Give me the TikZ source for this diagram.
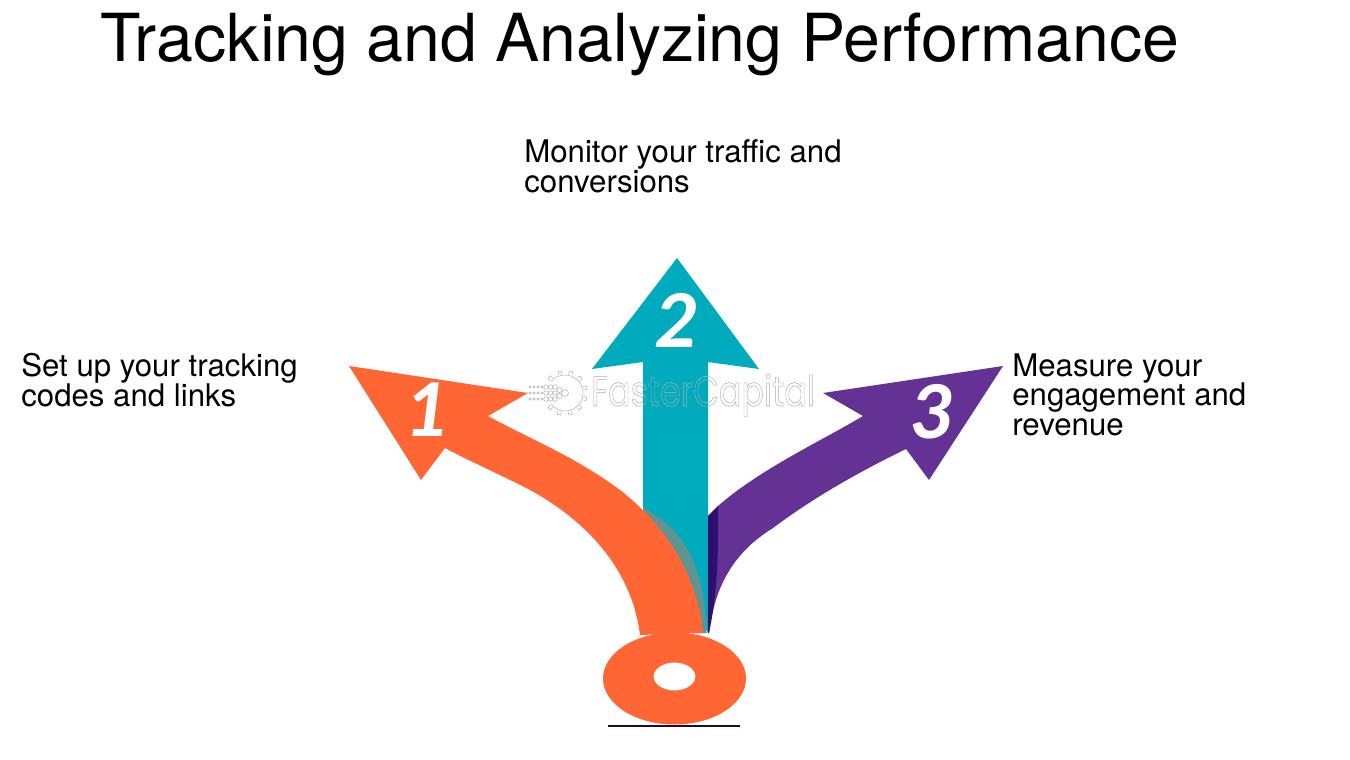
\documentclass[tikz,border=0pt]{standalone}
\usepackage{fontspec}
\usepackage{tkz-euclide}
\setmainfont{TeX Gyre Heros}
\newfontfamily\numfont{Carlito}
\newfontfamily\logofont{Poppins}
\definecolor{myOrange}{HTML}{FF6633}
\definecolor{myTeal}{HTML}{00ABBD}
\definecolor{myPurple}{HTML}{643294}
\definecolor{myDark}{HTML}{2E0F6E}
\definecolor{myBand}{HTML}{5F9490}
\tikzset{
  stepText/.style={anchor=north west,align=left,inner sep=0pt,font=\fontsize{17.75}{17}\selectfont},
  numText/.style={text=white,font=\numfont\bfseries\itshape\fontsize{47}{47}\selectfont},
  logoLine/.style={draw=gray!60,line width=0.3pt},
}
\newcommand{\myOutline}[1]{\special{pdf:code 1 Tr 0.3 w 0.68 G}#1\special{pdf:code 0 Tr}}
\begin{document}
\begin{tikzpicture}
	\useasboundingbox (0,0) rectangle (27,15.18);
	% title and texts
	\node[anchor=base west,inner sep=0pt,font=\fontsize{37.7}{37.7}\selectfont] (title) at (2,13.94) {Tracking and Analyzing Performance};
	\node[stepText] (textA) at (0.42,8.12) {Set up your tracking\\codes and links};
	\node[stepText] (textB) at (10.48,12.4) {Monitor your traffic and\\conversions};
	\node[stepText] (textC) at (20.24,8.12) {Measure your\\engagement and\\revenue};
	% teal arrow
	\tkzDefPoints{13.54/10.02/T, 11.84/7.8/Tl, 15.18/7.8/Tr, 12.86/7.94/Tc, 14.16/7.94/Td, 14.16/2.52/Te, 12.86/5/Tf}
	\fill[myTeal] (T) -- (Tr) -- (Td) -- (Te) -- (Tf) -- (Tc) -- (Tl) -- cycle;
	% band under orange arrow
	\fill[myBand] (14.13,2.52) .. controls (14.1,3.6) and (13.85,4.5) .. (12.86,5.04) -- (12.86,4.4) -- (13.6,2.52) -- cycle;
	% purple arrow
	\tkzDefPoints{20.06/7.86/P, 16.46/7.32/Pl, 18.58/5.58/Pr, 17.26/6.86/Pc, 18.12/6.2/Pd, 15.46/4.62/Pe, 14.18/2.52/Pf, 14.36/5.06/Pg, 14.16/4.86/Ph}
	\fill[myPurple] (Pf) .. controls (14.3,3.5) and (14.7,4.15) .. (Pe) .. controls (16.3,5.25) and (17.2,5.75) .. (Pd) -- (Pr) -- (P) -- (Pl) -- (Pc) .. controls (16.5,6.4) and (15.2,5.8) .. (Pg) -- (Ph) -- cycle;
	\fill[myDark] (Pg) -- (14.36,4.5) .. controls (14.36,3.6) and (14.28,3) .. (Pf) -- (14.16,2.52) -- (Ph) -- cycle;
	% orange arrow and ring
	\tkzDefPoints{6.98/7.86/O, 10.56/7.32/Ol, 8.42/5.58/Or, 9.76/6.86/Oc, 8.9/6.22/Od, 10.6/5.38/Oe, 12.8/2.48/Of, 14.06/2.52/Og, 12.4/5.38/Oh}
	\fill[myOrange] (Og) .. controls (13.95,3.6) and (13.4,4.6) .. (Oh) .. controls (11.5,6.05) and (10.6,6.4) .. (Oc) -- (Ol) -- (O) -- (Or) -- (Od) .. controls (9.5,5.9) and (10.05,5.67) .. (Oe) .. controls (11.3,5) and (12.6,4.1) .. (Of) -- cycle;
	\fill[myOrange,even odd rule] (13.49,1.61) ellipse (1.43 and 0.92) (13.49,1.65) ellipse (0.42 and 0.28);
	% shadow line
	\fill[myDark!60!black] (12.16,0.635) rectangle (14.8,0.675);
	% numbers
	\node[numText] (numA) at (8.5,6.98) {1};
	\node[numText] (numB) at (13.5,8.78) {2};
	\node[numText] (numC) at (18.6,6.94) {3};
	% logo gear and dots
	\tkzDefPoint(11.3,7.32){G}
	\draw[logoLine] (G) ++(-140:0.36) arc (-140:140:0.36);
	\foreach \a in {-135,-105,...,135}
		\draw[logoLine] (G) ++(\a-6:0.38) -- ++(\a:0.07) -- ++(\a+90:0.07) -- ++(\a+180:0.07);
	\foreach \y in {0.12,0,-0.12}{
		\foreach \x in {-0.7,-0.62,-0.54,-0.46}
			\draw[logoLine] (G) ++(\x,\y) circle (0.025);
		\foreach \x in {-0.38,-0.29,-0.2}
			\draw[logoLine] (G) ++(\x,\y) circle (0.045);
	}
	\draw[logoLine] (G) ++(-0.11,0.06) circle (0.05) ++(0,-0.12) circle (0.05);
	\draw[logoLine] (G) circle (0.07);
	% logo name
	\node[anchor=base west,inner sep=0pt,xscale=0.79,font=\logofont\fontsize{24}{24}\selectfont] (logo) at (11.82,7.06) {\myOutline{FasterCapital}};
\end{tikzpicture}
\end{document}
